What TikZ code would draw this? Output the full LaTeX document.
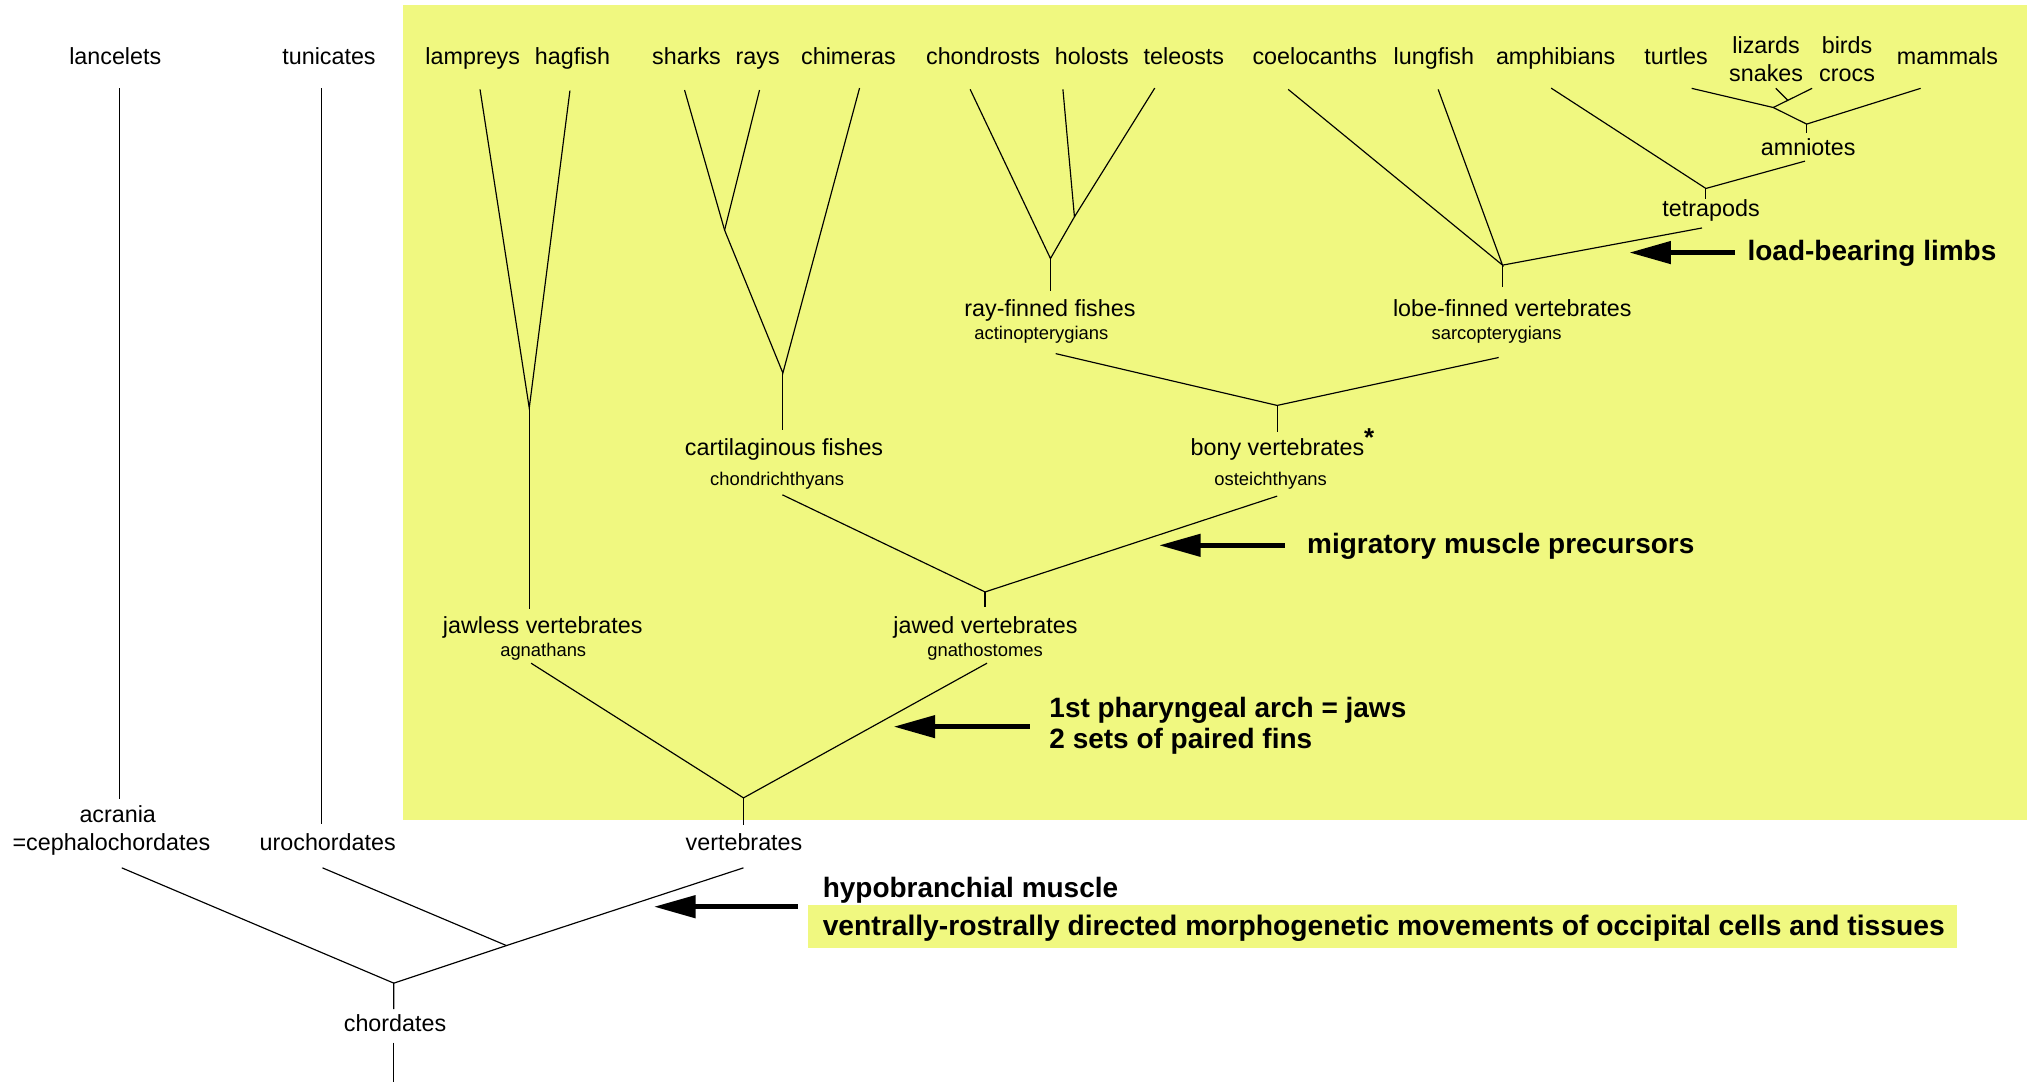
\documentclass[tikz,border=0pt]{standalone}
\usepackage{fontspec}
\setmainfont{Liberation Sans}
\usetikzlibrary{arrows.meta}
\definecolor{hiyel}{RGB}{240,248,128}
\begin{document}
\begin{tikzpicture}[x=1pt,y=-1pt,
  lbl/.style={font=\fontsize{18}{20}\selectfont, inner sep=0pt, anchor=base},
  sml/.style={font=\fontsize{14.2}{16}\selectfont, inner sep=0pt, anchor=base},
  bld/.style={font=\bfseries\fontsize{21.6}{24}\selectfont, inner sep=0pt, anchor=base west},
  br/.style={line width=0.9pt},
  bigarrow/.style={line width=3.5pt, -{Triangle[length=32pt,width=17pt]}}]
\useasboundingbox (0,0) rectangle (1568,835);
% backgrounds
\fill[hiyel] (311,4) rectangle (1565,633);
\fill[hiyel] (624,699) rectangle (1511,732);

% top labels
\node[lbl] (lanc) at (89,50) {lancelets};
\node[lbl] (tun) at (254,50) {tunicates};
\node[lbl] (lamp) at (365,50) {lampreys};
\node[lbl] (hag) at (442,50) {hagfish};
\node[lbl] (shark) at (530,50) {sharks};
\node[lbl] (ray) at (585,50) {rays};
\node[lbl] (chim) at (655,50) {chimeras};
\node[lbl] (chondr) at (759,50) {chondrosts};
\node[lbl] (hol) at (843,50) {holosts};
\node[lbl] (tel) at (914,50) {teleosts};
\node[lbl] (coel) at (1015,50) {coelocanths};
\node[lbl] (lung) at (1107,50) {lungfish};
\node[lbl] (amph) at (1201,50) {amphibians};
\node[lbl] (turt) at (1294,50) {turtles};
\node[lbl] (liz) at (1363.5,41.2) {lizards};
\node[lbl] (snk) at (1363.5,62.6) {snakes};
\node[lbl] (bird) at (1426,41.2) {birds};
\node[lbl] (croc) at (1426,62.6) {crocs};
\node[lbl] (mam) at (1503.5,50) {mammals};

% clade labels
\node[lbl] (amn) at (1396,119.7) {amniotes};
\node[lbl] (tet) at (1321,167.4) {tetrapods};
\node[lbl] (rayf) at (810.6,244.6) {ray-finned fishes};
\node[sml] (act) at (804,262) {actinopterygians};
\node[lbl] (lobe) at (1167.5,244.6) {lobe-finned vertebrates};
\node[sml] (sar) at (1155.4,262) {sarcopterygians};
\node[lbl] (cart) at (605.3,351.5) {cartilaginous fishes};
\node[sml] (chth) at (600,375) {chondrichthyans};
\node[lbl] (bony) at (986.3,351.5) {bony vertebrates};
\node[lbl, font=\bfseries\fontsize{20}{22}\selectfont] (ast) at (1057,345) {*};
\node[sml] (ost) at (981,375) {osteichthyans};
\node[lbl] (jawl) at (419,489.2) {jawless vertebrates};
\node[sml] (agn) at (419.4,506.5) {agnathans};
\node[lbl] (jawd) at (760.8,489.2) {jawed vertebrates};
\node[sml] (gna) at (760.5,506.5) {gnathostomes};
\node[lbl] (acr) at (90.9,634.7) {acrania};
\node[lbl] (ceph) at (86,656.6) {=cephalochordates};
\node[lbl] (uro) at (253,656.6) {urochordates};
\node[lbl] (vert) at (574.4,656.6) {vertebrates};
\node[lbl] (chord) at (305,796) {chordates};

% annotations
\node[bld] (t1) at (1349,200.8) {load-bearing limbs};
\node[bld] (t2) at (1009,427.4) {migratory muscle precursors};
\node[bld] (t3a) at (810,553.6) {1st pharyngeal arch = jaws};
\node[bld] (t3b) at (810,578) {2 sets of paired fins};
\node[bld] (t4a) at (635,692.6) {hypobranchial muscle};
\node[bld, font=\bfseries\fontsize{21.8}{24}\selectfont] (t4b) at (635,722.2) {ventrally-rostrally directed morphogenetic movements of occipital cells and tissues};

% coordinates
\coordinate (lancTop) at (92,68);   \coordinate (lancBot) at (92,617);
\coordinate (tunTop) at (248,68);   \coordinate (tunBot) at (248,636);
\coordinate (acrEnd) at (94,670);   \coordinate (uroEnd) at (249,670);
\coordinate (vertEnd) at (574,670); \coordinate (uroJ) at (391,730);
\coordinate (chordJ) at (304,759);  \coordinate (chordV) at (304,779);
\coordinate (rootTop) at (304,805); \coordinate (rootBot) at (304,835);
\coordinate (vertJ) at (574,616);   \coordinate (vertV) at (574,637);
\coordinate (agnEnd) at (410,512);  \coordinate (gnaEnd) at (762,512);
\coordinate (lampTop) at (370.6,69); \coordinate (hagTop) at (440,70);
\coordinate (agnJ) at (408.6,315);  \coordinate (agnV) at (408.6,470);
\coordinate (sharkTop) at (528.5,69.5); \coordinate (rayTop) at (586.4,69.5);
\coordinate (srJ) at (559.4,177.7); \coordinate (chimTop) at (663.6,68);
\coordinate (cartJ) at (604.4,288); \coordinate (cartV) at (604.4,332);
\coordinate (chthEnd) at (604,382); \coordinate (gnaJ) at (760.5,457);
\coordinate (gnaV) at (760.5,469);  \coordinate (ostEnd) at (986,383);
\coordinate (bonyJ) at (986,313);   \coordinate (bonyV) at (986,333.5);
\coordinate (actEnd) at (815,273);  \coordinate (sarEnd) at (1157,276);
\coordinate (rayJ) at (811,199.6);  \coordinate (rayV) at (811,225);
\coordinate (chondrTop) at (749,69); \coordinate (holTop) at (820.6,69);
\coordinate (htJ) at (829.5,167.4); \coordinate (telTop) at (891.5,68);
\coordinate (coelTop) at (994.5,69); \coordinate (lungTop) at (1110.3,69);
\coordinate (lobeJ) at (1160,204.7); \coordinate (lobeV) at (1160,221.5);
\coordinate (tetEnd) at (1314,176);
\coordinate (tetJ) at (1317,145.5); \coordinate (tetV) at (1317,154);
\coordinate (amphTop) at (1197.5,68); \coordinate (amnEnd) at (1393.5,124.4);
\coordinate (amnJ) at (1394.8,95.8); \coordinate (amnV) at (1394.8,103);
\coordinate (turtTop) at (1306,68.2); \coordinate (mamTop) at (1482.8,68.2);
\coordinate (tbJ) at (1369,83);     \coordinate (birdTop) at (1399,68.2);
\coordinate (lizTop) at (1371,68.2); \coordinate (lizJ) at (1380,77.2);

% branches
\draw[br] (lancTop) -- (lancBot);
\draw[br] (tunTop) -- (tunBot);
\draw[br] (acrEnd) -- (chordJ);
\draw[br] (uroEnd) -- (uroJ);
\draw[br] (vertEnd) -- (uroJ) -- (chordJ) -- (chordV);
\draw[br] (rootTop) -- (rootBot);
\draw[br] (agnEnd) -- (vertJ) -- (gnaEnd);
\draw[br] (vertJ) -- (vertV);
\draw[br] (lampTop) -- (agnJ) -- (hagTop);
\draw[br] (agnJ) -- (agnV);
\draw[br] (sharkTop) -- (srJ) -- (cartJ) -- (chimTop);
\draw[br] (rayTop) -- (srJ);
\draw[br] (cartJ) -- (cartV);
\draw[br] (chthEnd) -- (gnaJ) -- (ostEnd);
\draw[br] (gnaJ) -- (gnaV);
\draw[br] (actEnd) -- (bonyJ) -- (sarEnd);
\draw[br] (bonyJ) -- (bonyV);
\draw[br] (chondrTop) -- (rayJ) -- (htJ) -- (telTop);
\draw[br] (holTop) -- (htJ);
\draw[br] (rayJ) -- (rayV);
\draw[br] (coelTop) -- (lobeJ) -- (lungTop);
\draw[br] (lobeJ) -- (lobeV);
\draw[br] (lobeJ) -- (tetEnd);
\draw[br] (amphTop) -- (tetJ) -- (amnEnd);
\draw[br] (tetJ) -- (tetV);
\draw[br] (turtTop) -- (tbJ) -- (amnJ) -- (mamTop);
\draw[br] (amnJ) -- (amnV);
\draw[br] (birdTop) -- (tbJ);
\draw[br] (lizTop) -- (lizJ);

% arrows
\coordinate (a1s) at (1339.5,195); \coordinate (a1e) at (1258,195);
\coordinate (a2s) at (992,421);    \coordinate (a2e) at (895,421);
\coordinate (a3s) at (795,561);    \coordinate (a3e) at (690,561);
\coordinate (a4s) at (616,700);    \coordinate (a4e) at (505,700);
\draw[bigarrow] (a1s) -- (a1e);
\draw[bigarrow] (a2s) -- (a2e);
\draw[bigarrow] (a3s) -- (a3e);
\draw[bigarrow] (a4s) -- (a4e);
\end{tikzpicture}
\end{document}
